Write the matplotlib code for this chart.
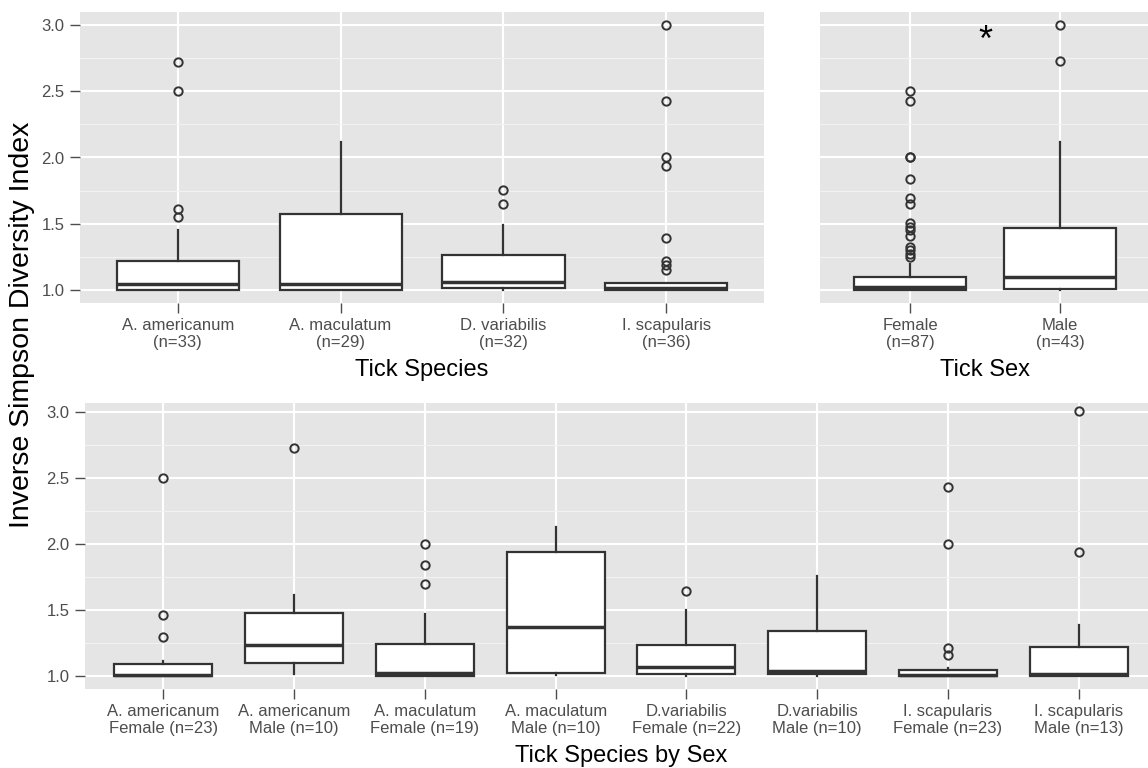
import matplotlib
matplotlib.use("Agg")
import matplotlib.pyplot as plt
from matplotlib.ticker import FixedLocator

plt.rcParams["font.family"] = ["Liberation Sans", "DejaVu Sans"]

# ---- Inverse Simpson diversity by tick species ----
species_labels = ["A. americanum\n(n=33)", "A. maculatum\n(n=29)",
                  "D. variabilis\n(n=32)", "I. scapularis\n(n=36)"]
species_whislo = [1.00, 1.00, 1.00, 1.00]
species_q1 = [1.00, 1.00, 1.015, 1.00]
species_med = [1.045, 1.045, 1.058, 1.015]
species_q3 = [1.214, 1.576, 1.26, 1.05]
species_whishi = [1.455, 2.118, 1.49, 1.05]
species_fliers = [
    [2.724, 2.50, 1.61, 1.55],
    [],
    [1.757, 1.646],
    [3.0, 2.43, 2.0, 1.936, 1.389, 1.214, 1.184, 1.152],
]

# ---- by tick sex ----
sex_labels = ["Female\n(n=87)", "Male\n(n=43)"]
sex_whislo = [1.00, 1.00]
sex_q1 = [1.00, 1.008]
sex_med = [1.018, 1.10]
sex_q3 = [1.10, 1.47]
sex_whishi = [1.195, 2.118]
sex_fliers = [
    [2.505, 2.43, 2.0, 2.0, 1.838, 1.697, 1.646, 1.505, 1.474, 1.455,
     1.404, 1.323, 1.303, 1.273, 1.247],
    [3.0, 2.727],
]

# ---- by species and sex ----
combo_labels = ["A. americanum\nFemale (n=23)", "A. americanum\nMale (n=10)",
                "A. maculatum\nFemale (n=19)", "A. maculatum\nMale (n=10)",
                "D.variabilis\nFemale (n=22)", "D.variabilis\nMale (n=10)",
                "I. scapularis\nFemale (n=23)", "I. scapularis\nMale (n=13)"]
combo_whislo = [1.00, 1.013, 1.00, 1.008, 1.00, 1.00, 1.00, 1.00]
combo_q1 = [1.00, 1.096, 1.00, 1.025, 1.015, 1.013, 1.00, 1.00]
combo_med = [1.008, 1.235, 1.02, 1.369, 1.066, 1.033, 1.008, 1.013]
combo_q3 = [1.091, 1.473, 1.243, 1.936, 1.23, 1.336, 1.046, 1.217]
combo_whishi = [1.109, 1.609, 1.468, 2.125, 1.50, 1.753, 1.06, 1.384]
combo_fliers = [
    [2.502, 1.46, 1.291],
    [2.729],
    [2.0, 1.842, 1.695],
    [],
    [1.645],
    [],
    [2.43, 2.0, 1.21, 1.154],
    [3.005, 1.936],
]

yticks = [1.0, 1.5, 2.0, 2.5, 3.0]

BG = "#E5E5E5"
DARK = "#333333"
TXT = "#4D4D4D"


def make_stats(lo, q1, med, q3, hi, fl):
    return [dict(whislo=a, q1=b, med=c, q3=d, whishi=e, fliers=f)
            for a, b, c, d, e, f in zip(lo, q1, med, q3, hi, fl)]


def draw_panel(ax, stats, labels, ylim, xlabel, show_y=True):
    pos = list(range(1, len(stats) + 1))
    ax.set_facecolor(BG)
    for s in ax.spines.values():
        s.set_visible(False)
    ax.bxp(stats, positions=pos, widths=0.75, patch_artist=True,
           showcaps=False, manage_ticks=False,
           boxprops=dict(facecolor="white", edgecolor=DARK, linewidth=1.6),
           medianprops=dict(color=DARK, linewidth=2.5, solid_capstyle="butt"),
           whiskerprops=dict(color=DARK, linewidth=1.6),
           flierprops=dict(marker="o", markerfacecolor="none",
                           markeredgecolor=DARK, markersize=6,
                           markeredgewidth=1.4))
    ax.set_xlim(0.4, len(stats) + 0.6)
    ax.set_ylim(*ylim)
    ax.set_xticks(pos)
    ax.set_xticklabels(labels, fontsize=12, color=TXT, linespacing=1.12)
    ax.yaxis.set_major_locator(FixedLocator(yticks))
    ax.yaxis.set_minor_locator(FixedLocator([1.25, 1.75, 2.25, 2.75]))
    ax.set_yticklabels([f"{v:.1f}" for v in yticks], fontsize=12, color=TXT)
    ax.tick_params(axis="both", which="major", length=7, width=1.0,
                   color=TXT, pad=4)
    ax.tick_params(axis="y", which="minor", length=0)
    if not show_y:
        ax.tick_params(axis="y", which="major", length=0, labelleft=False)
    ax.set_axisbelow(True)
    ax.grid(which="major", color="white", linewidth=1.5)
    ax.grid(which="minor", axis="y", color="#F2F2F2", linewidth=0.8)
    ax.set_xlabel(xlabel, fontsize=17, color="black", labelpad=7)


W, H = 1148, 768
fig = plt.figure(figsize=(W / 100, H / 100), dpi=100)
fig.patch.set_facecolor("white")

ax1 = fig.add_axes([80 / W, 1 - 303 / H, 684 / W, 291 / H])
ax2 = fig.add_axes([820 / W, 1 - 303 / H, 330 / W, 291 / H])
ax3 = fig.add_axes([85 / W, 1 - 689 / H, 1072 / W, 286 / H])

draw_panel(ax1, make_stats(species_whislo, species_q1, species_med,
                           species_q3, species_whishi, species_fliers),
           species_labels, (0.9, 3.1), "Tick Species")
draw_panel(ax2, make_stats(sex_whislo, sex_q1, sex_med, sex_q3,
                           sex_whishi, sex_fliers),
           sex_labels, (0.9, 3.1), "Tick Sex", show_y=False)
draw_panel(ax3, make_stats(combo_whislo, combo_q1, combo_med, combo_q3,
                           combo_whishi, combo_fliers),
           combo_labels, (0.9, 3.068), "Tick Species by Sex")

# significance marker between the sexes
ax2.text(1.5, 2.875, "*", ha="center", va="center", fontsize=26,
         color="black")

fig.text(22 / W, 1 - 325 / H, "Inverse Simpson Diversity Index",
         rotation=90, ha="center", va="center", fontsize=20.5, color="black")

fig.savefig("out.png", dpi=100)
